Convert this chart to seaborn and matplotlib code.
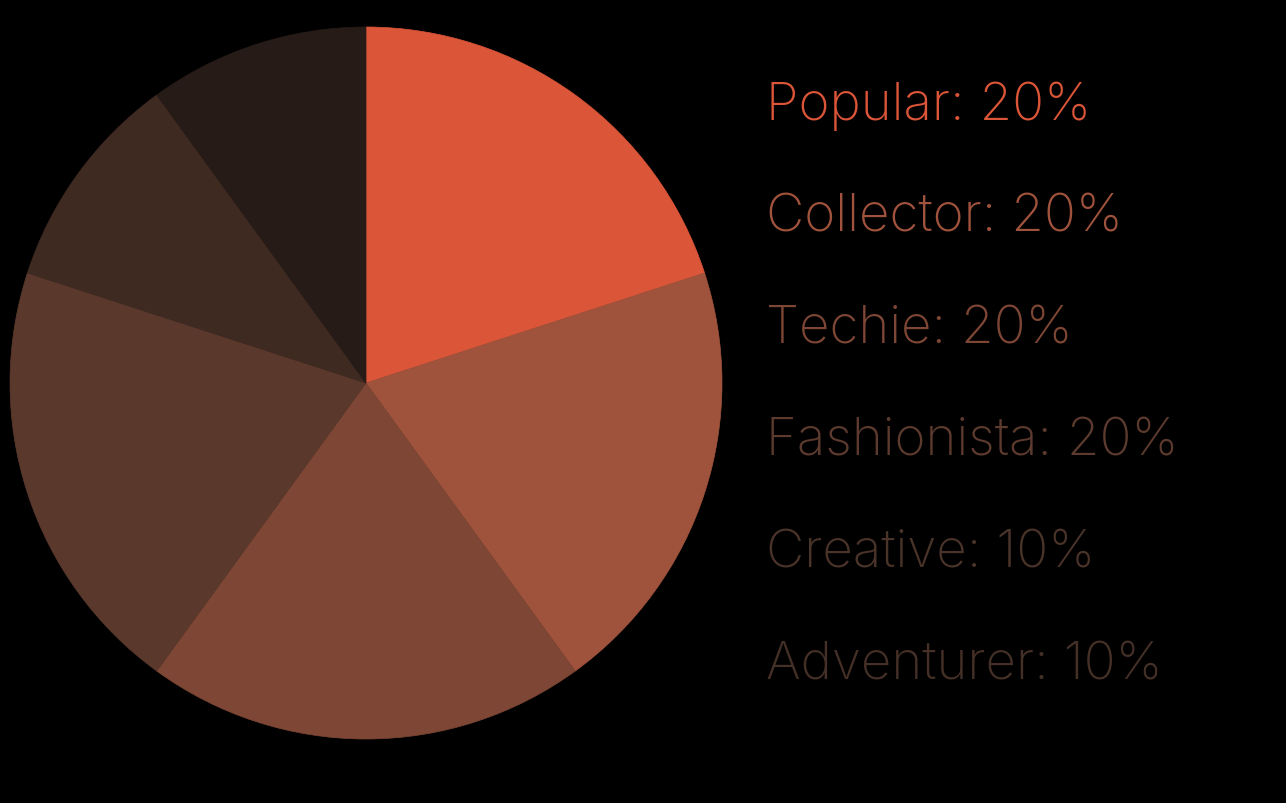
import matplotlib.pyplot as plt
import seaborn as sns

segments = ["Popular", "Collector", "Techie", "Fashionista", "Creative", "Adventurer"]
shares = [20, 20, 20, 20, 10, 10]
slice_hex = ["#DB5538", "#A0533C", "#7E4634", "#5A382C", "#3F2A22", "#261B17"]
text_hex = ["#DB5538", "#A0533C", "#7E4634", "#5C3A2E", "#4A3329", "#453027"]

sns.set_theme(style="white")
plt.rcParams["font.family"] = ["Inter", "DejaVu Sans"]

W, H = 1286, 804
fig = plt.figure(figsize=(W / 100, H / 100), dpi=100, facecolor="black")

# pie centred at ~(366, 384) px, radius ~356 px
cx, cy, r = 366, 384, 356
ax = fig.add_axes([(cx - r) / W, (H - cy - r) / H, 2 * r / W, 2 * r / H])
ax.set_facecolor("black")
wedges, _ = ax.pie(shares, colors=sns.color_palette(slice_hex), startangle=90,
                   counterclock=False, radius=1)
for w in wedges:
    w.set_edgecolor(w.get_facecolor())
    w.set_linewidth(0.5)
ax.set_xlim(-1, 1)
ax.set_ylim(-1, 1)
ax.set_aspect("equal")
ax.axis("off")

# labels on the right
for i, (name, val) in enumerate(zip(segments, shares)):
    y_px = 120 + i * 112
    fig.text(766 / W, 1 - y_px / H, f"{name}: {val}%", color=text_hex[i],
             fontsize=38, fontweight="light", ha="left", va="baseline")

fig.savefig("out.png", dpi=100, facecolor="black")
